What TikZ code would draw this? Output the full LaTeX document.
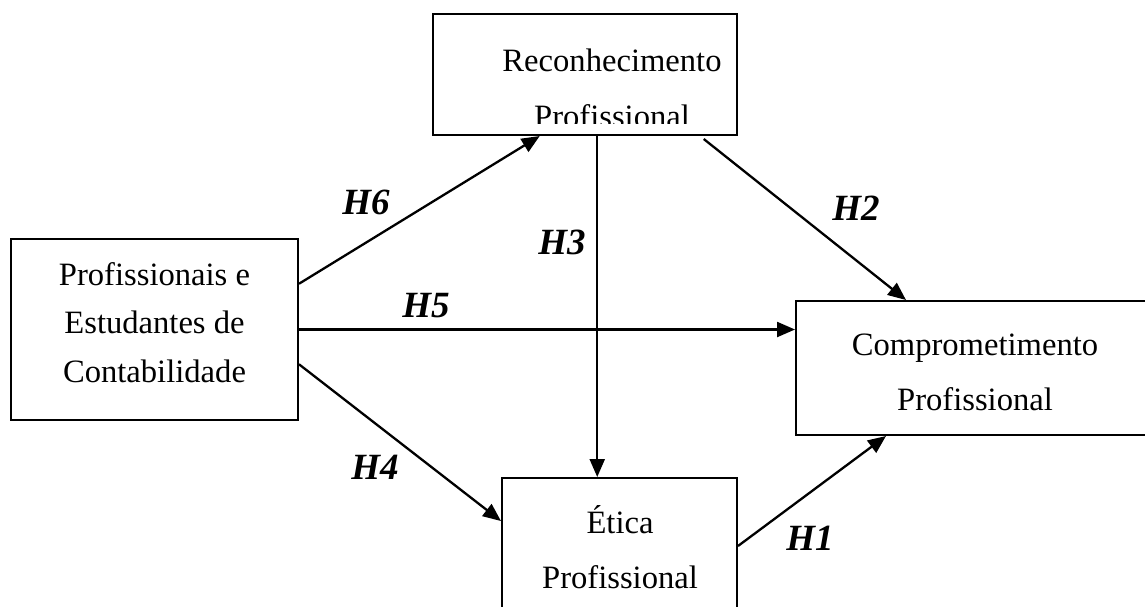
\documentclass[tikz,border=0pt]{standalone}
\usepackage{fontspec}
\setmainfont{Liberation Serif}
\usetikzlibrary{arrows.meta,calc}
\begin{document}
\begin{tikzpicture}[x=0.5pt,y=-0.5pt,
  boxstyle/.style={draw,line width=1pt,inner sep=0pt,rectangle},
  txt/.style={inner sep=0pt,anchor=base,font=\fontsize{16.3}{20}\selectfont},
  hyp/.style={inner sep=0pt,font=\fontsize{18.5}{22}\selectfont\bfseries\itshape},
  arr/.style={line width=1.15pt,-{Triangle[length=9pt,width=7.5pt]}}]
\useasboundingbox (0,0) rectangle (1145,606);
\clip (0,0) rectangle (1145,606);
% boxes
\node[boxstyle,minimum width=152pt,minimum height=60.5pt] (top) at (585,74.5) {};
\node[boxstyle,minimum width=143.5pt,minimum height=90.5pt] (left) at (154.5,329.5) {};
\node[boxstyle,minimum width=184pt,minimum height=67pt] (right) at (980,368) {};
\node[boxstyle,minimum width=117.5pt,minimum height=81pt] (eth) at (619.5,559) {};
% texts
\begin{scope}
\clip (433,14) rectangle (737,123);
\node[txt] (t1) at (612,71) {Reconhecimento};
\node[txt] (t2) at (612,127) {Profissional};
\end{scope}
\node[txt] (l1) at (154.5,285) {Profissionais e};
\node[txt] (l2) at (154.5,333.5) {Estudantes de};
\node[txt] (l3) at (154.5,382) {Contabilidade};
\node[txt] (r1) at (975,355) {Comprometimento};
\node[txt] (r2) at (975,410) {Profissional};
\node[txt] (e1) at (620,533) {Ética};
\node[txt] (e2) at (620,588) {Profissional};
% connectors
\coordinate (h3s) at ($(top.south west)!0.54!(top.south east)$);
\draw[arr] ($(left.north east)!0.25!(left.south east)$) -- ($(top.south west)!0.352!(top.south east)$);
\draw[arr] (left.east) -- (left.east -| right.west);
\draw[arr] ($(left.north east)!0.69!(left.south east)$) -- ($(eth.north west)+(0,44)$);
\draw[arr] (h3s) -- (h3s |- eth.north);
\draw[arr] ($(top.south west)!0.888!(top.south east)+(0,3)$) -- ($(right.north west)+(111,0)$);
\draw[arr] ($(eth.north east)+(0,69)$) -- ($(right.south west)+(91,0)$);
% labels
\node[hyp] (H6) at (366,202) {H6};
\node[hyp] (H5) at (426,306) {H5};
\node[hyp] (H3) at (562,242) {H3};
\node[hyp] (H2) at (856,208) {H2};
\node[hyp] (H4) at (375,467) {H4};
\node[hyp] (H1) at (810,538) {H1};
\end{tikzpicture}
\end{document}
